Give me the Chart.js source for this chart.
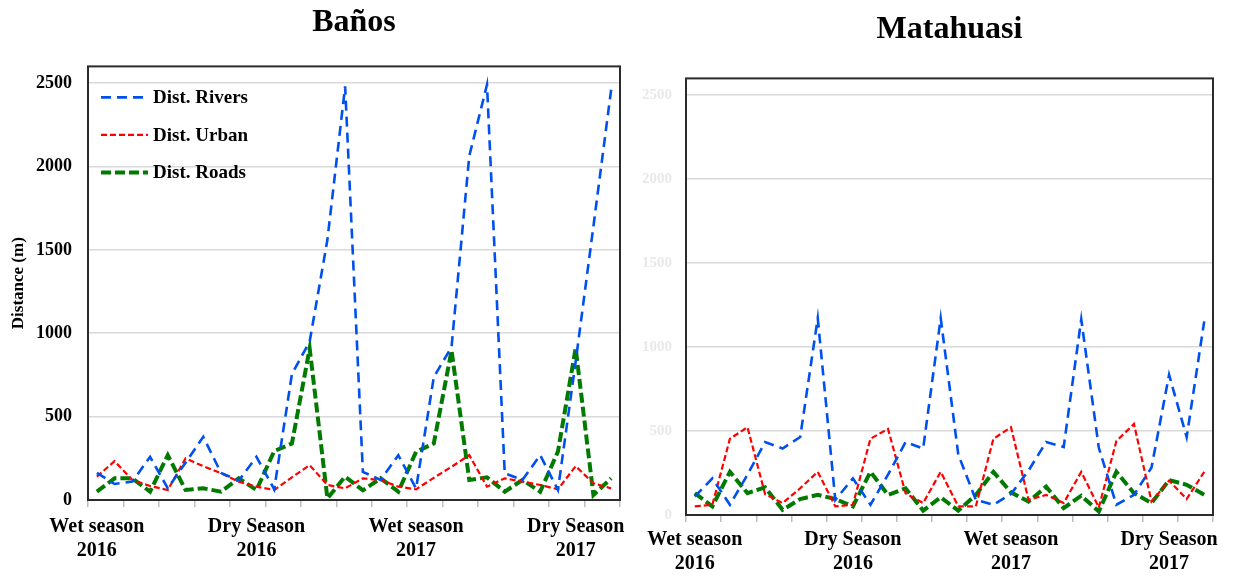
<!DOCTYPE html>
<html>
<head>
<meta charset="utf-8">
<title>Distance to rivers, urban areas and roads</title>
<script src="https://cdn.jsdelivr.net/npm/chart.js@4.4.1/dist/chart.umd.min.js"></script>
<style>
  html, body { margin: 0; padding: 0; background: #ffffff; }
  #wrap { position: relative; width: 1238px; height: 576px; overflow: hidden; }
  canvas { position: absolute; top: 0; }
  #banos { left: 0; }
  #matahuasi { left: 625px; }
</style>
</head>
<body>
<div id="wrap">
  <canvas id="banos" width="625" height="576"></canvas>
  <canvas id="matahuasi" width="613" height="576"></canvas>
</div>
<script>
// Observation periods (30 per site)
const periods = ['1','2','3','4','5','6','7','8','9','10','11','12','13','14','15',
                 '16','17','18','19','20','21','22','23','24','25','26','27','28','29','30'];

// Season labels and the period where each one is written
const seasonLabels = [['Wet season', '2016'], ['Dry Season', '2016'], ['Wet season', '2017'], ['Dry Season', '2017']];
const seasonPeriods = [0, 9, 18, 27];

const yTicks = [0, 500, 1000, 1500, 2000, 2500];

// Baños distances (m)
const banosRivers = [163, 96, 110, 259, 70, 224, 379, 163, 116, 259, 64, 755, 950, 1560, 2480,
                     169, 120, 269, 69, 737, 917, 2063, 2490, 160, 120, 269, 60, 830, 1640, 2460];
const banosUrban  = [140, 233, 120, 84, 60, 249, 203, 160, 110, 80, 60, 136, 209, 90, 70,
                     130, 120, 80, 64, 133, 199, 269, 80, 130, 110, 90, 64, 203, 100, 70];
const banosRoads  = [50, 130, 130, 50, 269, 60, 70, 50, 130, 60, 293, 339, 908, 10, 140,
                     58, 130, 50, 289, 339, 897, 120, 136, 50, 120, 50, 290, 910, 30, 130];

// Matahuasi distances (m)
const mataRivers = [110, 218, 61, 240, 434, 396, 464, 1172, 90, 218, 61, 240, 434, 396, 1172,
                    360, 90, 61, 125, 265, 434, 405, 1165, 400, 61, 120, 283, 835, 464, 1153];
const mataUrban  = [51, 61, 454, 523, 125, 71, 159, 257, 51, 61, 454, 513, 129, 71, 257,
                    51, 51, 454, 523, 90, 120, 71, 257, 45, 440, 542, 80, 205, 95, 257];
const mataRoads  = [130, 51, 257, 130, 165, 31, 95, 120, 95, 51, 257, 120, 159, 26, 105,
                    26, 120, 257, 135, 80, 169, 41, 115, 21, 257, 130, 71, 208, 180, 120];

const SERIF = '"Liberation Serif", "Times New Roman", serif';

function seriesSet(rivers, urban, roads) {
  return [
    { label: 'Dist. Rivers', data: rivers, borderColor: '#0050F0', borderWidth: 2.6,
      borderDash: [10, 6], pointRadius: 0, tension: 0, fill: false },
    { label: 'Dist. Urban', data: urban, borderColor: '#FF0000', borderWidth: 2.2,
      borderDash: [6, 3], pointRadius: 0, tension: 0, fill: false },
    { label: 'Dist. Roads', data: roads, borderColor: '#007A00', borderWidth: 4,
      borderDash: [10, 4], pointRadius: 0, tension: 0, fill: false }
  ];
}

// Dark frame around the plot area
const frame = {
  id: 'frame',
  beforeDatasetsDraw(chart) {
    const a = chart.chartArea, c = chart.ctx;
    c.save();
    c.strokeStyle = '#2b2b2b';
    c.lineWidth = 2;
    c.strokeRect(a.left, a.top, a.right - a.left, a.bottom - a.top);
    c.restore();
  }
};

// Legend drawn inside the top-left corner of the plot area
const innerLegend = {
  id: 'innerLegend',
  afterDatasetsDraw(chart, args, opts) {
    if (!opts.show) return;
    const a = chart.chartArea, c = chart.ctx;
    chart.data.datasets.forEach((ds, i) => {
      const y = a.top + 31 + i * 37.5;
      c.save();
      c.strokeStyle = ds.borderColor;
      c.lineWidth = ds.borderWidth;
      c.setLineDash(ds.borderDash);
      c.beginPath();
      c.moveTo(a.left + 13, y);
      c.lineTo(a.left + 60, y);
      c.stroke();
      c.setLineDash([]);
      c.fillStyle = '#000';
      c.font = 'bold 19px ' + SERIF;
      c.textAlign = 'left';
      c.textBaseline = 'middle';
      c.fillText(ds.label, a.left + 65, y + 1);
      c.restore();
    });
  }
};

function makeChart(id, title, datasets, cfg) {
  return new Chart(document.getElementById(id), {
    type: 'line',
    data: { labels: periods, datasets: datasets },
    plugins: [frame, innerLegend],
    options: {
      responsive: false,
      animation: false,
      devicePixelRatio: 1,
      layout: { padding: { left: 0, right: cfg.padRight, top: 0, bottom: 0 } },
      plugins: {
        legend: { display: false },
        tooltip: { enabled: false },
        title: {
          display: true, text: title, color: '#000', fullSize: false,
          font: { family: SERIF, size: 32, weight: 'bold' },
          padding: cfg.titlePad
        },
        innerLegend: { show: cfg.legend }
      },
      scales: {
        x: {
          type: 'category',
          offset: true,
          border: { display: false },
          grid: {
            offset: true,
            drawOnChartArea: false,
            drawTicks: true,
            tickLength: 7,
            lineWidth: 1.5,
            color: (c) => ((c.index ?? periods.length) % 2 === 0 ? '#bdbdbd' : 'rgba(0,0,0,0)')
          },
          ticks: {
            autoSkip: false, maxRotation: 0, minRotation: 0,
            color: '#000', padding: cfg.xPad,
            font: { family: SERIF, size: 20, weight: 'bold', lineHeight: 1.2 },
            callback: (v, i) => {
              const k = seasonPeriods.indexOf(i);
              return k >= 0 ? seasonLabels[k] : '';
            }
          },
          afterFit: (s) => { s.height = cfg.xHeight; }
        },
        y: {
          min: 0, max: 2600,
          border: { display: false },
          grid: { color: '#d9d9d9', lineWidth: 1.5, drawTicks: false },
          afterBuildTicks: (s) => { s.ticks = yTicks.map(v => ({ value: v })); },
          ticks: {
            color: cfg.yTickColor, padding: cfg.yPad,
            font: { family: SERIF, size: cfg.yTickSize, weight: 'bold' },
            callback: (v) => String(v)
          },
          title: {
            display: cfg.yTitle, text: 'Distance (m)', color: '#000',
            font: { family: SERIF, size: 17, weight: 'bold' },
            padding: { top: 8, bottom: 0 }
          },
          afterFit: (s) => { s.width = cfg.yWidth; }
        }
      }
    }
  });
}

makeChart('banos', 'Baños', seriesSet(banosRivers, banosUrban, banosRoads), {
  padRight: 5, titlePad: { top: 4, bottom: 24 }, xPad: 8, xHeight: 76,
  yWidth: 88, yPad: 16, yTickSize: 18, yTickColor: '#000', yTitle: true, legend: true
});

makeChart('matahuasi', 'Matahuasi', seriesSet(mataRivers, mataUrban, mataRoads), {
  padRight: 25, titlePad: { top: 11, bottom: 29 }, xPad: 6, xHeight: 61,
  yWidth: 61, yPad: 14, yTickSize: 15, yTickColor: '#e8e8e8', yTitle: false, legend: false
});
</script>
</body>
</html>
